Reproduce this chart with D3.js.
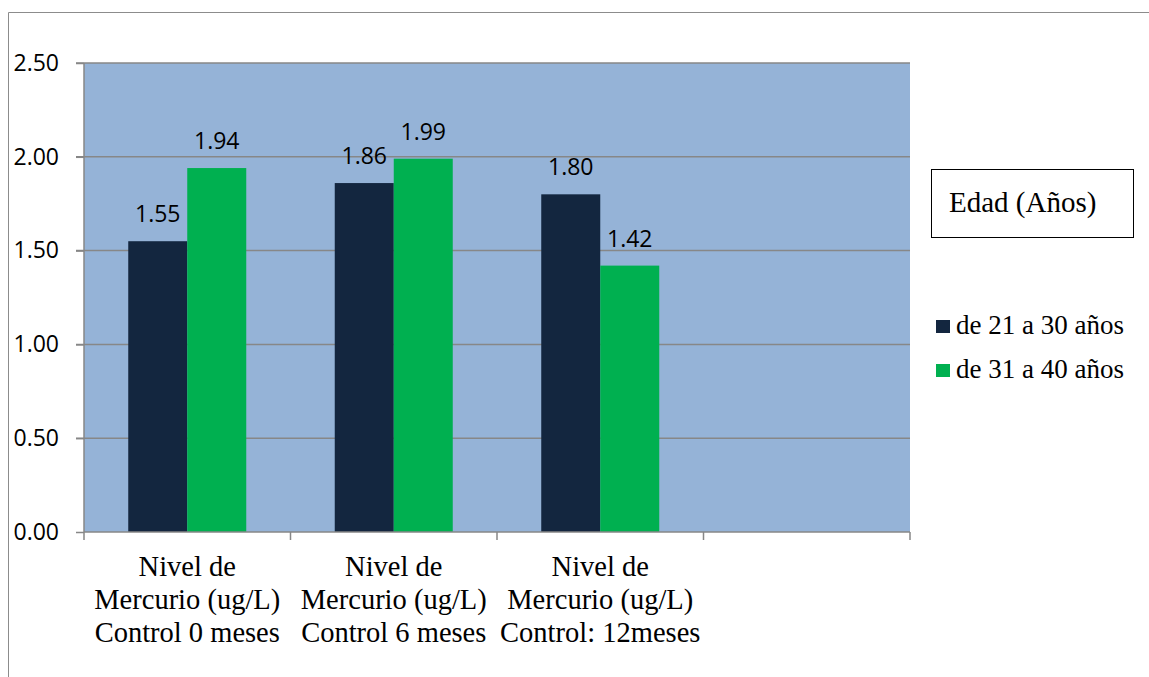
<!DOCTYPE html>
<html>
<head>
<meta charset="utf-8">
<script src="https://cdn.jsdelivr.net/npm/d3@7"></script>
<style>
  html, body { margin: 0; padding: 0; background: #ffffff; }
  svg { display: block; }
</style>
</head>
<body>
<svg id="chart" width="1149" height="677"></svg>
<script>
// Chart data
const categories = [
  ["Nivel de", "Mercurio (ug/L)", "Control 0 meses"],
  ["Nivel de", "Mercurio (ug/L)", "Control 6 meses"],
  ["Nivel de", "Mercurio (ug/L)", "Control: 12meses"],
  []
];
const seriesNames = ["de 21 a 30 años", "de 31 a 40 años"];
const series21a30 = [1.55, 1.86, 1.80];
const series31a40 = [1.94, 1.99, 1.42];
const yTicks = [0, 0.5, 1, 1.5, 2, 2.5];
const legendTitle = "Edad (Años)";

const seriesValues = [series21a30, series31a40];
const colors = ["#13263F", "#00B050"];
const SERIF = '"Liberation Serif"';
const SANS = '"Open Sans"';

const svg = d3.select("#chart");

// Outer frame (left and top edges)
svg.append("path")
  .attr("d", "M8.5,677 L8.5,12.5 L1149,12.5")
  .attr("fill", "none")
  .attr("stroke", "#8c8c8c")
  .attr("stroke-width", 1);

const plot = { left: 84, right: 910, top: 63, bottom: 532 };

const x0 = d3.scaleBand()
  .domain(d3.range(categories.length))
  .range([plot.left, plot.right])
  .paddingInner(0).paddingOuter(0);

const x1 = d3.scaleBand()
  .domain(d3.range(seriesNames.length))
  .range([0, x0.bandwidth()])
  .paddingInner(0).paddingOuter(0.75);

const y = d3.scaleLinear().domain([0, 2.5]).range([plot.bottom, plot.top]);

// Plot background
svg.append("rect")
  .attr("x", plot.left).attr("y", plot.top)
  .attr("width", plot.right - plot.left).attr("height", plot.bottom - plot.top)
  .attr("fill", "#95B3D7");

// Gridlines
svg.append("g").selectAll("line")
  .data(yTicks.filter(d => d > 0))
  .join("line")
  .attr("x1", plot.left - 8).attr("x2", plot.right)
  .attr("y1", d => y(d)).attr("y2", d => y(d))
  .attr("stroke", "#878787").attr("stroke-width", 1.5);

// Bars
const groups = svg.append("g").selectAll("g")
  .data(seriesValues)
  .join("g")
  .attr("fill", (d, i) => colors[i]);

groups.each(function(vals, si) {
  d3.select(this).selectAll("rect")
    .data(vals)
    .join("rect")
    .attr("x", (d, ci) => x0(ci) + x1(si))
    .attr("y", d => y(d))
    .attr("width", x1.bandwidth())
    .attr("height", d => y(0) - y(d));
});

// Value labels
groups.each(function(vals, si) {
  d3.select(this).selectAll("text")
    .data(vals)
    .join("text")
    .attr("x", (d, ci) => x0(ci) + x1(si) + x1.bandwidth() / 2)
    .attr("y", d => y(d) - 19)
    .attr("text-anchor", "middle")
    .attr("fill", "#000")
    .attr("font-family", "Open Sans")
    .style("font-family", SANS)
    .style("font-size", "23px")
    .text(d => d.toFixed(2));
});

// Y axis
const yAxis = d3.axisLeft(y)
  .tickValues(yTicks)
  .tickSize(8)
  .tickPadding(17)
  .tickFormat(d3.format(".2f"));

const yG = svg.append("g")
  .attr("transform", `translate(${plot.left},0)`)
  .call(yAxis)
  .attr("font-family", "Open Sans");
yG.select(".domain").attr("stroke", "#878787").attr("stroke-width", 1.5)
  .attr("d", `M0,${plot.top}V${plot.bottom}`);
yG.selectAll(".tick line").attr("stroke", "#878787").attr("stroke-width", 1.5);
yG.selectAll(".tick text")
  .style("font-family", SANS)
  .style("font-size", "23px")
  .attr("fill", "#000");

// X axis
const xAxisG = svg.append("g");
xAxisG.append("line")
  .attr("x1", plot.left).attr("x2", plot.right)
  .attr("y1", plot.bottom).attr("y2", plot.bottom)
  .attr("stroke", "#878787").attr("stroke-width", 1.5);
const boundaries = x0.domain().map(d => x0(d)).concat([plot.right]);
xAxisG.selectAll("line.tick")
  .data(boundaries)
  .join("line")
  .attr("class", "tick")
  .attr("x1", d => d).attr("x2", d => d)
  .attr("y1", plot.bottom).attr("y2", plot.bottom + 8)
  .attr("stroke", "#878787").attr("stroke-width", 1.5);

// Category labels
const catText = xAxisG.selectAll("text.cat")
  .data(categories)
  .join("text")
  .attr("class", "cat")
  .attr("text-anchor", "middle")
  .attr("fill", "#000")
  .attr("font-family", "Liberation Serif")
  .style("font-family", SERIF)
  .style("font-size", "28.5px");
catText.each(function(lines, ci) {
  d3.select(this).selectAll("tspan")
    .data(lines)
    .join("tspan")
    .attr("x", x0(ci) + x0.bandwidth() / 2)
    .attr("y", (d, li) => 576 + li * 33)
    .text(d => d);
});

// Legend title box
svg.append("rect")
  .attr("x", 931.5).attr("y", 169.5)
  .attr("width", 202).attr("height", 68)
  .attr("fill", "#fff").attr("stroke", "#000").attr("stroke-width", 1);
svg.append("text")
  .attr("x", 949).attr("y", 212)
  .attr("fill", "#000")
  .attr("font-family", "Liberation Serif")
  .style("font-family", SERIF)
  .style("font-size", "29px")
  .text(legendTitle);

// Legend entries
const legend = svg.append("g").selectAll("g")
  .data(seriesNames)
  .join("g")
  .attr("transform", (d, i) => `translate(936,${320 + i * 44})`);
legend.append("rect")
  .attr("width", 14).attr("height", 13)
  .attr("fill", (d, i) => colors[i]);
legend.append("text")
  .attr("x", 20).attr("y", 14)
  .attr("fill", "#000")
  .attr("font-family", "Liberation Serif")
  .style("font-family", SERIF)
  .style("font-size", "27px")
  .text(d => d);
</script>
</body>
</html>
